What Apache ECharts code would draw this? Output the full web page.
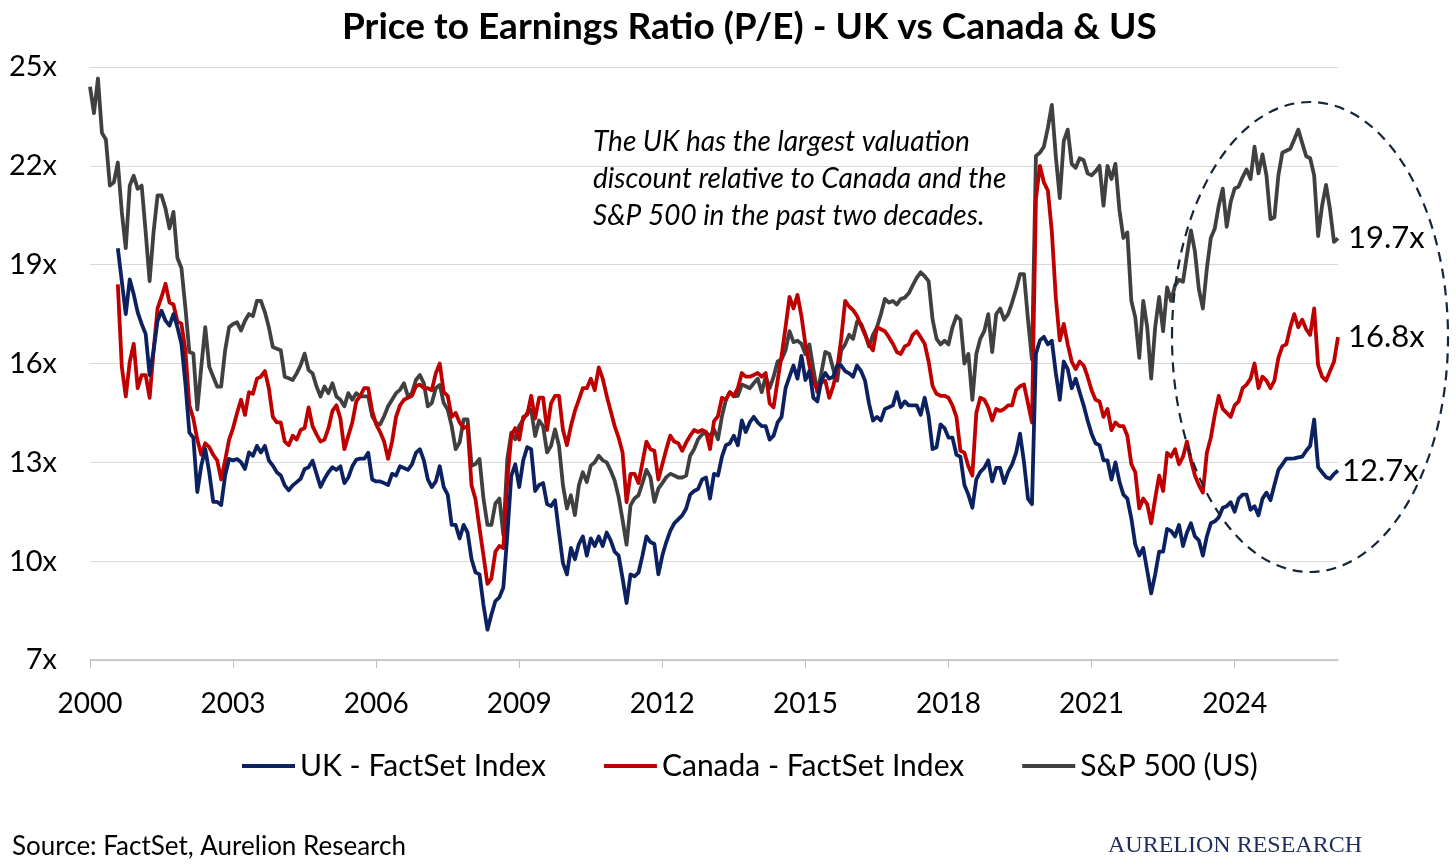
<!DOCTYPE html>
<html lang="en">
<head>
    <meta charset="UTF-8">
    <title>Price to Earnings Ratio (P/E) - UK vs Canada & US</title>
    <script src="https://cdn.jsdelivr.net/npm/echarts@6/dist/echarts.min.js"></script>
    <style>
        html, body { margin: 0; padding: 0; background: #fff; }
    </style>
</head>
<body>
<div id="main" style="width: 1456px; height: 867px;"></div>
<script>
    // monthly forward P/E, Jan 2000 .. Mar 2026
    var startYear = 2000;

    var spPE = [
        24.4, 23.6, 24.65, 23.0, 22.8, 21.4, 21.5, 22.1, 20.6, 19.5, 21.4, 21.7,       // 2000
        21.3, 21.4, 20.0, 18.5, 20.0, 21.1, 21.1, 20.7, 20.1, 20.6, 19.2, 18.9,        // 2001
        17.7, 16.35, 16.3, 14.6, 15.9, 17.1, 15.9, 15.6, 15.3, 15.3, 16.4, 17.1,       // 2002
        17.2, 17.25, 17.0, 17.3, 17.5, 17.44, 17.9, 17.9, 17.56, 17.1, 16.5, 16.45,    // 2003
        16.4, 15.6, 15.55, 15.5, 15.7, 15.95, 16.3, 15.8, 15.7, 15.3, 15.0, 15.3,      // 2004
        15.1, 15.4, 15.0, 14.9, 14.7, 15.1, 14.9, 15.1, 15.0, 15.0, 15.0, 14.4,        // 2005
        14.2, 14.15, 14.4, 14.7, 14.9, 15.1, 15.2, 15.4, 15.0, 15.1, 15.5, 15.65,      // 2006
        15.4, 14.7, 14.8, 15.25, 15.35, 14.8, 14.6, 14.1, 13.4, 13.6, 14.3, 14.3,      // 2007
        12.9, 12.95, 13.1, 11.9, 11.1, 11.1, 11.75, 11.9, 10.8, 13.1, 13.9, 13.7,      // 2008
        14.1, 14.3, 14.5, 14.6, 13.8, 14.27, 14.1, 13.3, 13.5, 14.0, 13.5, 12.3,       // 2009
        11.6, 12.0, 11.4, 12.3, 12.7, 12.4, 12.9, 13.0, 13.2, 13.06, 13.0, 12.75,      // 2010
        12.45, 11.95, 11.25, 10.5, 11.7, 11.9, 12.0, 12.37, 12.77, 12.55, 11.8, 12.2,  // 2011
        12.37, 12.55, 12.65, 12.6, 12.54, 12.54, 12.6, 13.2, 13.4, 13.7, 13.85, 13.9,  // 2012
        13.8, 14.0, 13.7, 14.4, 14.9, 15.13, 15.0, 15.02, 15.36, 15.31, 15.25, 15.4,   // 2013
        15.54, 15.13, 15.6, 15.25, 15.6, 16.06, 16.12, 16.4, 16.98, 16.65, 16.69, 16.6, // 2014
        16.29, 16.58, 15.83, 15.13, 15.71, 16.35, 16.29, 15.83, 15.48, 16.4, 16.58, 16.87, // 2015
        16.75, 17.27, 17.21, 16.92, 16.52, 16.87, 17.1, 17.5, 17.96, 17.85, 17.9, 17.79, // 2016
        17.96, 18.0, 18.13, 18.37, 18.6, 18.77, 18.65, 18.5, 17.33, 16.75, 16.58, 16.69, // 2017
        16.58, 17.1, 17.44, 17.33, 16.0, 16.29, 14.9, 16.29, 16.75, 16.98, 17.5, 16.35, // 2018
        17.5, 17.67, 17.33, 17.5, 17.85, 18.25, 18.71, 18.71, 17.33, 16.12, 22.3, 22.4, // 2019
        22.58, 23.15, 23.85, 22.29, 21.02, 22.75, 23.1, 22.06, 21.94, 22.23, 22.17, 21.77, // 2020
        21.71, 21.83, 22.0, 20.79, 22.0, 21.6, 22.06, 20.67, 19.81, 19.98, 17.9, 17.4,  // 2021
        16.17, 17.9, 17.1, 15.54, 17.1, 18.02, 16.98, 18.31, 17.9, 18.37, 18.54, 18.48, // 2022
        19.29, 20.04, 19.4, 18.25, 17.67, 18.88, 19.81, 20.1, 20.79, 21.31, 20.15, 20.9, // 2023
        21.31, 21.37, 21.66, 21.89, 21.6, 22.58, 21.77, 22.35, 21.71, 20.38, 20.44, 21.71, // 2024
        22.4, 22.46, 22.52, 22.8, 23.1, 22.69, 22.29, 22.23, 21.71, 19.87, 20.79, 21.42, // 2025
        20.67, 19.69, 19.8                                                              // 2026
    ];

    var ukPE = [
        null, null, null, null, null, null, null, 19.5, 18.5, 17.5, 18.55, 18.1,       // 2000
        17.55, 17.2, 16.9, 15.65, 16.4, 17.3, 17.6, 17.3, 17.15, 17.5, 17.1, 16.6,     // 2001
        15.4, 13.9, 13.75, 12.1, 12.9, 13.4, 12.7, 11.8, 11.8, 11.7, 12.6, 13.1,       // 2002
        13.06, 13.1, 13.0, 12.8, 13.3, 13.2, 13.5, 13.3, 13.5, 13.06, 12.9, 12.7,      // 2003
        12.6, 12.3, 12.15, 12.3, 12.4, 12.5, 12.8, 12.85, 13.05, 12.65, 12.25, 12.5,   // 2004
        12.7, 12.85, 12.77, 12.88, 12.37, 12.54, 12.88, 13.08, 13.11, 13.11, 13.29, 12.48, // 2005
        12.42, 12.42, 12.37, 12.31, 12.65, 12.6, 12.88, 12.83, 12.77, 12.94, 13.29, 13.4, // 2006
        13.06, 12.48, 12.25, 12.42, 12.88, 12.25, 12.02, 11.1, 11.1, 10.69, 11.1, 10.87, // 2007
        10.06, 9.66, 9.6, 8.67, 7.92, 8.38, 8.79, 8.9, 9.2, 10.8, 12.6, 12.94,         // 2008
        12.25, 13.06, 13.46, 13.4, 12.13, 12.31, 12.37, 11.73, 11.67, 11.85, 10.87, 9.94, // 2009
        9.6, 10.4, 10.06, 10.52, 10.75, 10.17, 10.69, 10.46, 10.75, 10.46, 10.87, 10.63, // 2010
        10.29, 10.17, 9.48, 8.73, 9.6, 9.54, 9.65, 10.17, 10.75, 10.58, 10.52, 9.6,    // 2011
        10.17, 10.58, 10.92, 11.15, 11.27, 11.39, 11.6, 12.02, 12.13, 12.19, 12.48, 12.54, // 2012
        11.9, 12.65, 12.6, 13.17, 13.52, 13.58, 13.81, 13.52, 14.27, 13.92, 14.21, 14.38, // 2013
        14.21, 14.1, 14.1, 13.69, 13.81, 14.21, 14.38, 15.25, 15.6, 15.94, 15.54, 16.23, // 2014
        15.5, 15.77, 14.96, 14.85, 15.48, 15.71, 15.54, 15.6, 15.94, 15.94, 15.77, 15.7, // 2015
        15.6, 15.94, 15.77, 15.48, 14.79, 14.27, 14.38, 14.27, 14.62, 14.67, 14.73, 15.13, // 2016
        14.67, 14.85, 14.73, 14.73, 14.73, 14.44, 14.96, 14.4, 13.4, 13.46, 14.15, 14.04, // 2017
        13.75, 13.75, 13.23, 13.17, 12.31, 12.02, 11.62, 12.48, 12.71, 12.83, 13.06, 12.42, // 2018
        12.83, 12.83, 12.37, 12.71, 12.94, 13.29, 13.87, 13.0, 11.9, 11.73, 16.3, 16.7, // 2019
        16.81, 16.58, 16.69, 15.71, 14.9, 16.06, 15.83, 15.25, 15.54, 15.13, 14.73, 14.27, // 2020
        13.87, 13.58, 13.52, 13.06, 13.06, 12.48, 13.0, 12.42, 12.02, 11.9, 11.3, 10.5, // 2021
        10.17, 10.4, 9.71, 9.02, 9.6, 10.29, 10.29, 10.98, 10.92, 10.75, 11.1, 10.46,  // 2022
        10.87, 11.15, 10.75, 10.63, 10.17, 10.75, 11.15, 11.21, 11.33, 11.62, 11.67, 11.79, // 2023
        11.5, 11.9, 12.02, 12.02, 11.56, 11.67, 11.39, 11.9, 12.08, 11.85, 12.31, 12.77, // 2024
        12.94, 13.11, 13.11, 13.12, 13.15, 13.17, 13.35, 13.5, 14.3, 12.85, 12.7, 12.55, // 2025
        12.5, 12.65, 12.75                                                              // 2026
    ];

    var canadaPE = [
        null, null, null, null, null, null, null, 18.4, 15.9, 15.0, 16.05, 16.6,       // 2000
        15.25, 15.65, 15.65, 14.96, 16.4, 17.67, 18.02, 18.42, 17.85, 17.79, 17.27, 17.21, // 2001
        16.4, 14.73, 14.33, 13.69, 13.23, 13.58, 13.46, 13.23, 13.06, 12.48, 13.06, 13.69, // 2002
        14.04, 14.5, 14.9, 14.44, 15.13, 15.08, 15.54, 15.6, 15.77, 15.25, 14.38, 14.21, // 2003
        14.21, 13.63, 13.52, 13.81, 13.69, 13.98, 14.04, 14.67, 14.1, 13.85, 13.63, 13.69, // 2004
        14.04, 14.56, 14.73, 14.33, 13.4, 13.81, 14.21, 14.85, 15.02, 15.25, 15.25, 14.56, // 2005
        14.15, 13.92, 13.63, 13.11, 13.63, 14.38, 14.73, 14.9, 14.96, 15.02, 15.31, 15.36, // 2006
        15.25, 15.25, 15.19, 15.7, 16.0, 15.13, 15.02, 14.38, 14.5, 14.21, 14.04, 14.1, // 2007
        12.3, 11.88, 11.0, 10.17, 9.31, 9.48, 10.29, 10.46, 10.4, 12.48, 13.81, 14.04, // 2008
        13.69, 14.38, 14.44, 15.02, 14.33, 14.96, 14.96, 13.98, 14.79, 15.02, 15.02, 13.98, // 2009
        13.52, 14.1, 14.56, 14.9, 15.25, 15.25, 15.54, 15.19, 15.88, 15.54, 15.02, 14.56, // 2010
        14.1, 13.75, 13.29, 11.79, 12.65, 12.65, 12.37, 13.0, 13.63, 13.4, 13.35, 12.48, // 2011
        12.94, 13.4, 13.81, 13.63, 13.58, 13.35, 13.6, 13.81, 13.98, 13.92, 13.98, 13.92, // 2012
        13.4, 14.25, 14.4, 14.96, 14.9, 15.13, 15.02, 15.25, 15.71, 15.6, 15.6, 15.65, // 2013
        15.71, 15.6, 15.71, 14.79, 14.67, 15.48, 16.23, 17.1, 18.02, 17.67, 18.08, 17.44, // 2014
        16.58, 15.94, 15.48, 15.19, 15.42, 15.48, 14.96, 15.31, 15.83, 16.75, 17.9, 17.73, // 2015
        17.62, 17.44, 17.15, 16.87, 16.58, 16.4, 17.1, 17.04, 16.98, 16.8, 16.6, 16.35, // 2016
        16.29, 16.52, 16.58, 16.87, 16.98, 16.8, 16.6, 16.06, 15.31, 15.08, 15.02, 15.02, // 2017
        14.96, 14.73, 14.38, 13.35, 13.29, 12.88, 12.6, 14.5, 14.96, 14.9, 14.67, 14.27, // 2018
        14.62, 14.56, 14.62, 14.73, 14.73, 15.19, 15.31, 15.36, 14.79, 14.21, 21.0, 22.0, // 2019
        21.5, 21.25, 20.0, 18.0, 16.7, 17.2, 16.58, 16.06, 15.83, 16.06, 15.94, 15.6,  // 2020
        15.19, 14.9, 14.85, 14.38, 14.62, 13.98, 14.21, 14.1, 14.1, 13.81, 12.95, 12.7, // 2021
        11.6, 11.9, 11.73, 11.15, 11.9, 12.6, 12.13, 13.29, 13.17, 13.4, 12.94, 13.17, // 2022
        13.63, 13.06, 12.6, 12.31, 12.08, 13.29, 13.75, 14.44, 15.02, 14.62, 14.5, 14.38, // 2023
        14.73, 14.85, 15.25, 15.36, 15.54, 16.0, 15.25, 15.6, 15.48, 15.25, 15.48, 16.17, // 2024
        16.52, 16.58, 17.1, 17.5, 17.1, 17.33, 17.04, 16.87, 17.67, 15.94, 15.6, 15.48, // 2025
        15.77, 16.06, 16.8                                                              // 2026
    ];

    var seriesNames = ['UK - FactSet Index', 'Canada - FactSet Index', 'S&P 500 (US)'];
    var seriesColors = ['#0b2160', '#c00000', '#404040'];
    var endLabels = ['12.7x', '16.8x', '19.7x'];
    var yTicks = [7, 10, 13, 16, 19, 22, 25];

    // month categories, 2000-01 ...
    var months = [];
    for (var i = 0; i < spPE.length; i++) {
        var y = startYear + Math.floor(i / 12);
        var m = (i % 12) + 1;
        months.push(y + '-' + (m < 10 ? '0' + m : m));
    }

    var FONT = 'Lato, "Open Sans", sans-serif';

    function lineSerie(idx, data, labelDist) {
        return {
            name: seriesNames[idx],
            type: 'line',
            data: data,
            showSymbol: false,
            symbol: 'none',
            connectNulls: false,
            lineStyle: { width: 3.8, color: seriesColors[idx], join: 'round' },
            itemStyle: { color: seriesColors[idx] },
            z: idx == 0 ? 4 : (idx == 1 ? 3 : 2),
            endLabel: {
                show: true,
                formatter: function () { return endLabels[idx]; },
                color: '#000',
                fontFamily: FONT,
                fontSize: 31,
                distance: labelDist
            },
            emphasis: { disabled: true }
        };
    }

    var myChart = echarts.init(document.getElementById('main'), null, { renderer: 'canvas' });

    var option = {
        animation: false,
        backgroundColor: '#fff',
        title: [
            {
                text: 'Price to Earnings Ratio (P/E) - UK vs Canada & US',
                left: 337,
                top: 4,
                textStyle: { fontFamily: FONT, fontWeight: 'bold', fontSize: 37, color: '#000' }
            },
            {
                text: 'Source: FactSet, Aurelion Research',
                left: 7,
                top: 829,
                textStyle: { fontFamily: FONT, fontWeight: 'normal', fontSize: 26, color: '#000' }
            },
            {
                text: 'AURELION RESEARCH',
                right: 89,
                top: 829,
                textStyle: { fontFamily: '"Liberation Serif", "DejaVu Serif", serif', fontWeight: 'normal', fontSize: 24, color: '#1f2d5e' }
            }
        ],
        grid: {
            left: 90,
            right: 118,
            top: 67,
            bottom: 207,
            containLabel: false
        },
        legend: {
            data: seriesNames,
            bottom: 81,
            left: 237,
            icon: 'rect',
            itemWidth: 53,
            itemHeight: 4,
            itemGap: 58,
            textStyle: { fontFamily: FONT, fontSize: 30, color: '#000' }
        },
        xAxis: {
            type: 'category',
            data: months,
            boundaryGap: false,
            axisLine: { show: true, lineStyle: { color: '#bfbfbf', width: 1.5 } },
            axisTick: { show: true, interval: 35, length: 8, lineStyle: { color: '#bfbfbf' } },
            axisLabel: {
                interval: 35,
                margin: 30,
                fontFamily: FONT,
                fontSize: 28,
                color: '#000',
                formatter: function (v) { return v.slice(0, 4); }
            },
            splitLine: { show: false }
        },
        yAxis: {
            type: 'value',
            min: yTicks[0],
            max: yTicks[yTicks.length - 1],
            interval: 3,
            axisLine: { show: false },
            axisTick: { show: false },
            axisLabel: {
                margin: 33,
                fontFamily: FONT,
                fontSize: 29,
                color: '#000',
                formatter: '{value}x'
            },
            splitLine: { lineStyle: { color: '#d9d9d9', width: 1.2 } }
        },
        graphic: [
            {
                type: 'text',
                left: 593,
                top: 123,
                style: {
                    text: 'The UK has the largest valuation\ndiscount relative to Canada and the\nS&P 500 in the past two decades.',
                    font: 'italic 28px ' + FONT,
                    fill: '#000',
                    lineHeight: 37
                },
                z: 10
            },
            {
                type: 'ellipse',
                shape: { cx: 1310, cy: 337, rx: 138, ry: 235 },
                style: { fill: 'none', stroke: '#15263a', lineWidth: 2.2, lineDash: [10, 7] },
                silent: true,
                z: 10
            }
        ],
        series: [
            lineSerie(0, ukPE, 4),
            lineSerie(1, canadaPE, 10),
            lineSerie(2, spPE, 10)
        ]
    };

    myChart.setOption(option);
</script>
</body>
</html>
